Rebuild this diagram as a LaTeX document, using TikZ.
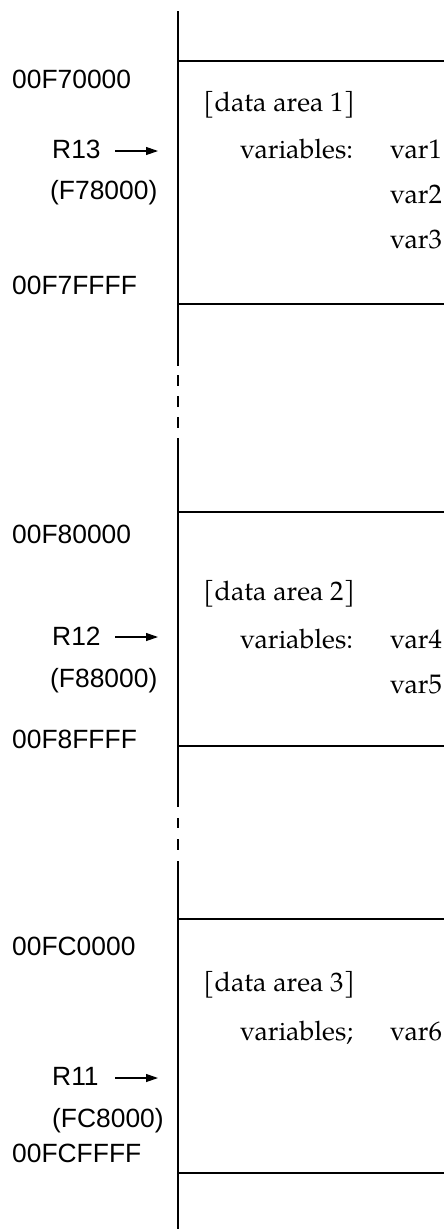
\documentclass[tikz,border=0pt]{standalone}
\usepackage{fontspec}
\setsansfont{Liberation Sans}
\newfontfamily\palfont{texgyrepagella-regular.otf}
\usetikzlibrary{arrows.meta}
\tikzset{
  addr/.style={font=\sffamily\fontsize{26.4}{30}\selectfont, anchor=base west, inner sep=0pt},
  txt/.style={font=\palfont\fontsize{26.8}{30}\selectfont, anchor=base west, inner sep=0pt},
  memline/.style={line width=1.2pt, black},
  ptr/.style={-{Triangle[length=12pt,width=8pt]}, line width=1.2pt},
}
\begin{document}
\begin{tikzpicture}[x=1pt,y=-1pt]
\useasboundingbox (0,0) rectangle (444,1229);
% vertical memory line with breaks
\draw[memline] (178,11) -- (178,366);
\draw[memline] (178,375) -- (178,386);
\draw[memline] (178,396) -- (178,407);
\draw[memline] (178,417) -- (178,428);
\draw[memline] (178,438) -- (178,807);
\draw[memline] (178,818) -- (178,828);
\draw[memline] (178,839) -- (178,850);
\draw[memline] (178,861) -- (178,1229);
% horizontal boundaries
\foreach \yy in {61,304,512,746,919,1173}
  \draw[memline] (178,\yy) -- (444,\yy);
% section 1
\node[addr] (a1s) at (12,88) {00F70000};
\node[txt] (d1) at (203,111) {[data area 1]};
\node[addr] (r13) at (52,158) {R13};
\node[txt] (v1) at (240,158) {variables:};
\node[txt] (var1) at (390,158) {var1};
\node[addr] (p1) at (50,199) {(F78000)};
\node[txt] (var2) at (390,203) {var2};
\node[txt] (var3) at (390,248) {var3};
\node[addr] (a1e) at (12,294) {00F7FFFF};
\coordinate (r13s) at (115,151);
\coordinate (r13e) at (158,151);
\draw[ptr] (r13s) -- (r13e);
% section 2
\node[addr] (a2s) at (12,543) {00F80000};
\node[txt] (d2) at (203,600) {[data area 2]};
\node[addr] (r12) at (52,645) {R12};
\node[txt] (v2) at (240,648) {variables:};
\node[txt] (var4) at (390,648) {var4};
\node[addr] (p2) at (50,687) {(F88000)};
\node[txt] (var5) at (390,693) {var5};
\node[addr] (a2e) at (12,748) {00F8FFFF};
\coordinate (r12s) at (115,637);
\coordinate (r12e) at (158,637);
\draw[ptr] (r12s) -- (r12e);
% section 3
\node[addr] (a3s) at (12,955) {00FC0000};
\node[txt] (d3) at (203,991) {[data area 3]};
\node[txt] (v3) at (240,1040) {variables;};
\node[txt] (var6) at (390,1040) {var6};
\node[addr] (r11) at (52,1085) {R11};
\node[addr] (p3) at (52,1127) {(FC8000)};
\node[addr] (a3e) at (12,1162) {00FCFFFF};
\coordinate (r11s) at (115,1078);
\coordinate (r11e) at (158,1078);
\draw[ptr] (r11s) -- (r11e);
\end{tikzpicture}
\end{document}
